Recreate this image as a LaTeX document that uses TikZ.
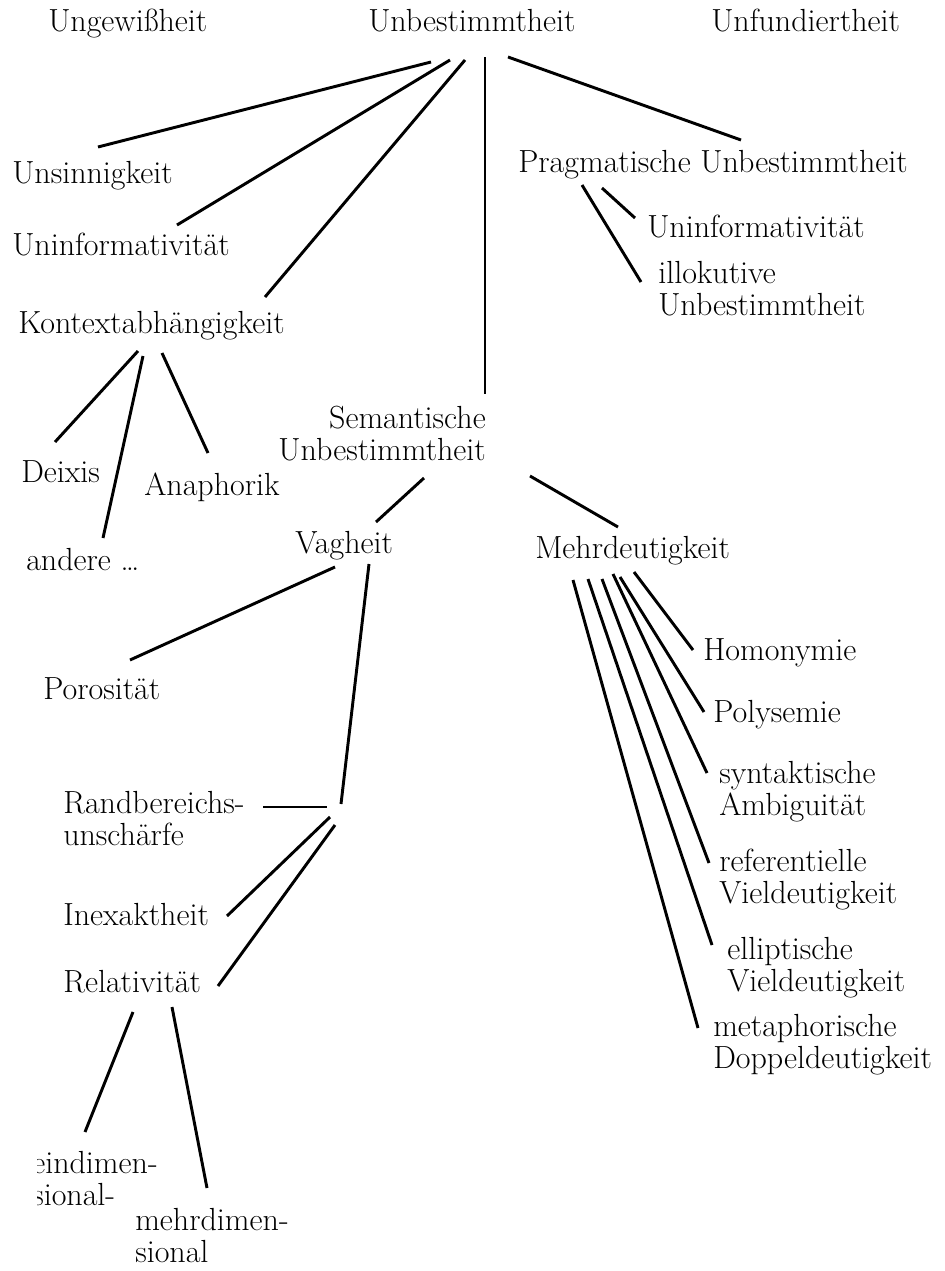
\documentclass[tikz,border=0pt]{standalone}
\tikzset{
  lbl/.style={anchor=base west, inner sep=0pt, align=left, font=\fontsize{24}{24}\selectfont},
  lblr/.style={lbl, anchor=base east, align=right},
  ln/.style={line width=2.2pt},
  lnthin/.style={line width=1.7pt}
}
\begin{document}
\begin{tikzpicture}[x=0.75pt, y=-0.75pt]
\useasboundingbox (0,0) rectangle (945,1271);
% labels (multi-line labels are placed at the baseline of their last line)
\node[lbl] (ungew) at (48,31) {Ungewißheit};
\node[lbl] (unbest) at (368,31) {Unbestimmtheit};
\node[lbl] (unfund) at (711,31) {Unfundiertheit};
\node[lbl] (unsinn) at (12,183) {Unsinnigkeit};
\node[lbl] (uninfA) at (12,255) {Uninformativität};
\node[lbl] (kontext) at (18,333) {Kontextabhängigkeit};
\node[lbl] (prag) at (518,172) {Pragmatische Unbestimmtheit};
\node[lbl] (uninfB) at (647,237) {Uninformativität};
\node[lbl] (illok) at (658,315) {illokutive\\Unbestimmtheit};
\node[lblr] (sem) at (486,460) {Semantische\\Unbestimmtheit};
\node[lbl] (deixis) at (21,482) {Deixis};
\node[lbl] (anaph) at (144,495) {Anaphorik};
\node[lbl] (andere) at (26,570) {andere \dots};
\node[lbl] (vag) at (295,553) {Vagheit};
\node[lbl] (mehr) at (535,558) {Mehrdeutigkeit};
\node[lbl] (poros) at (43,699) {Porosität};
\node[lbl] (homon) at (703,660) {Homonymie};
\node[lbl] (polys) at (713,722) {Polysemie};
\node[lbl] (synt) at (719,815) {syntaktische\\Ambiguität};
\node[lbl] (refer) at (719,903) {referentielle\\Vieldeutigkeit};
\node[lbl] (ellip) at (727,991) {elliptische\\Vieldeutigkeit};
\node[lbl] (metaph) at (713,1068) {metaphorische\\Doppeldeutigkeit};
\node[lbl] (rand) at (63,845) {Randbereichs-\\unschärfe};
\node[lbl] (inex) at (63,925) {Inexaktheit};
\node[lbl] (relat) at (63,992) {Relativität};
\begin{scope}
  \clip (37,1140) rectangle (220,1222);
  \node[lbl] (eindim) at (32,1205) {eindimen-\\sional-};
\end{scope}
\node[lbl] (mehrdim) at (135,1262) {mehrdimen-\\sional};
% connector end points
\coordinate (a1) at (431,62);  \coordinate (b1) at (98,147);
\coordinate (a2) at (450,60);  \coordinate (b2) at (177,225);
\coordinate (a3) at (465,60);  \coordinate (b3) at (265,297);
\coordinate (a4) at (485,57);  \coordinate (b4) at (485,394);
\coordinate (a5) at (508,57);  \coordinate (b5) at (741,140);
\coordinate (a6) at (582,185); \coordinate (b6) at (641,282);
\coordinate (a7) at (602,188); \coordinate (b7) at (635,218);
\coordinate (a8) at (138,351); \coordinate (b8) at (55,442);
\coordinate (a9) at (143,356); \coordinate (b9) at (103,538);
\coordinate (a10) at (162,353); \coordinate (b10) at (208,453);
\coordinate (a12) at (424,478); \coordinate (b12) at (376,522);
\coordinate (a13) at (335,567); \coordinate (b13) at (130,660);
\coordinate (a14) at (369,564); \coordinate (b14) at (341,804);
\coordinate (a15) at (530,476); \coordinate (b15) at (618,527);
\coordinate (a16) at (634,572); \coordinate (b16) at (693,650);
\coordinate (a17) at (620,577); \coordinate (b17) at (704,712);
\coordinate (a18) at (613,574); \coordinate (b18) at (707,773);
\coordinate (a19) at (602,579); \coordinate (b19) at (709,863);
\coordinate (a20) at (588,579); \coordinate (b20) at (712,945);
\coordinate (a21) at (573,580); \coordinate (b21) at (698,1028);
\coordinate (a22) at (263,807); \coordinate (b22) at (327,807);
\coordinate (a24) at (330,817); \coordinate (b24) at (227,916);
\coordinate (a25) at (335,825); \coordinate (b25) at (218,986);
\coordinate (a26) at (133,1012); \coordinate (b26) at (85,1132);
\coordinate (a27) at (172,1007); \coordinate (b27) at (207,1188);
% connectors
\draw[ln] (a1) -- (b1);
\draw[ln] (a2) -- (b2);
\draw[ln] (a3) -- (b3);
\draw[lnthin] (a4) -- (b4);
\draw[ln] (a5) -- (b5);
\draw[ln] (a6) -- (b6);
\draw[ln] (a7) -- (b7);
\draw[ln] (a8) -- (b8);
\draw[ln] (a9) -- (b9);
\draw[ln] (a10) -- (b10);
\draw[ln] (a12) -- (b12);
\draw[ln] (a13) -- (b13);
\draw[ln] (a14) -- (b14);
\draw[ln] (a15) -- (b15);
\draw[ln] (a16) -- (b16);
\draw[ln] (a17) -- (b17);
\draw[ln] (a18) -- (b18);
\draw[ln] (a19) -- (b19);
\draw[ln] (a20) -- (b20);
\draw[ln] (a21) -- (b21);
\draw[ln] (a22) -- (b22);
\draw[ln] (a24) -- (b24);
\draw[ln] (a25) -- (b25);
\draw[ln] (a26) -- (b26);
\draw[ln] (a27) -- (b27);
\end{tikzpicture}
\end{document}
